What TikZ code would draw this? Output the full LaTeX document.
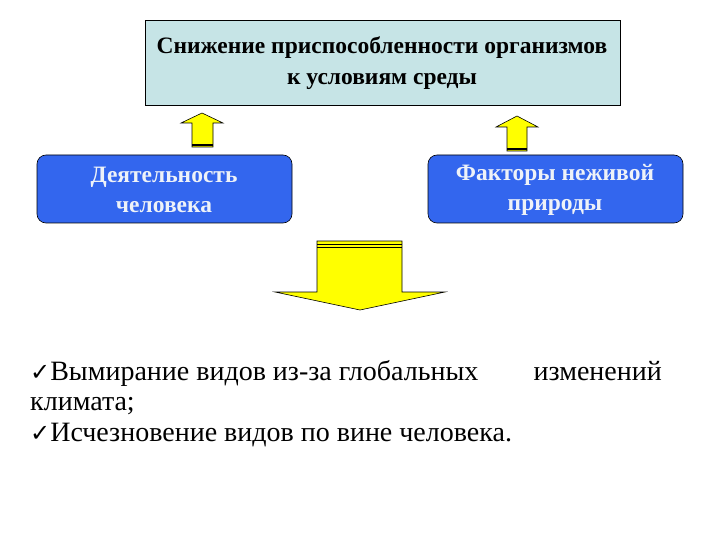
\documentclass[tikz,border=0pt]{standalone}
\usepackage{fontspec}
\setmainfont{Liberation Serif}
\newfontfamily\dejavu{DejaVu Sans}
\definecolor{topfill}{HTML}{C6E4E6}
\definecolor{bluebox}{HTML}{3366EE}
\definecolor{txtw}{HTML}{EEF2F8}
\definecolor{arr}{HTML}{FFFF00}
\begin{document}
\begin{tikzpicture}[x=1pt,y=-1pt,
  topbox/.style={draw=black,fill=topfill,line width=0.8pt},
  bbox/.style={draw=black,fill=bluebox,rounded corners=9pt,line width=0.6pt},
  btext/.style={text=txtw,font=\bfseries\fontsize{23.5}{30}\selectfont,align=center},
  arrw/.style={draw=black,fill=arr,line width=0.6pt},
  body/.style={font=\fontsize{28}{30}\selectfont,anchor=base west,inner sep=0pt}]
\useasboundingbox (0,0) rectangle (720,540);
\draw[topbox] (145,20) rectangle (620,105);
\node[font=\bfseries\fontsize{23.5}{31}\selectfont,align=center] (top) at (382,63) {Снижение приспособленности организмов\\к условиям среды};
\draw[bbox] (37,155) rectangle (292,223);
\node[btext] (l) at (164,190) {Деятельность\\человека};
\draw[bbox] (428,155) rectangle (683,223);
\node[btext] (r) at (555,190) {Факторы неживой\\природы};
% left up arrow
\draw[arrw] (192,147) -- (192,123) -- (181,123) -- (202,113) -- (223,123) -- (213,123) -- (213,147) -- cycle;
\draw[line width=1.5pt] (192,145) -- (213,145);
% right up arrow
\draw[arrw] (507,151) -- (507,127) -- (496,127) -- (517,116) -- (538,127) -- (527,127) -- (527,151) -- cycle;
\draw[line width=1.5pt] (507,149) -- (527,149);
% big down arrow
\draw[arrw] (317,241) -- (402,241) -- (402,292) -- (445,292) -- (360,310) -- (275,292) -- (317,292) -- cycle;
\draw (317,244) -- (402,244);
\draw (317,247) -- (402,247);
\node[body] (t1) at (30,380) {{\dejavu\fontsize{24}{24}\selectfont ✓}Вымирание видов из-за глобальных};
\node[body,anchor=base east] (t1b) at (662,380) {изменений};
\node[body] (t2) at (30,410) {климата;};
\node[body] (t3) at (30,441) {{\dejavu\fontsize{24}{24}\selectfont ✓}Исчезновение видов по вине человека.};
\end{tikzpicture}
\end{document}
